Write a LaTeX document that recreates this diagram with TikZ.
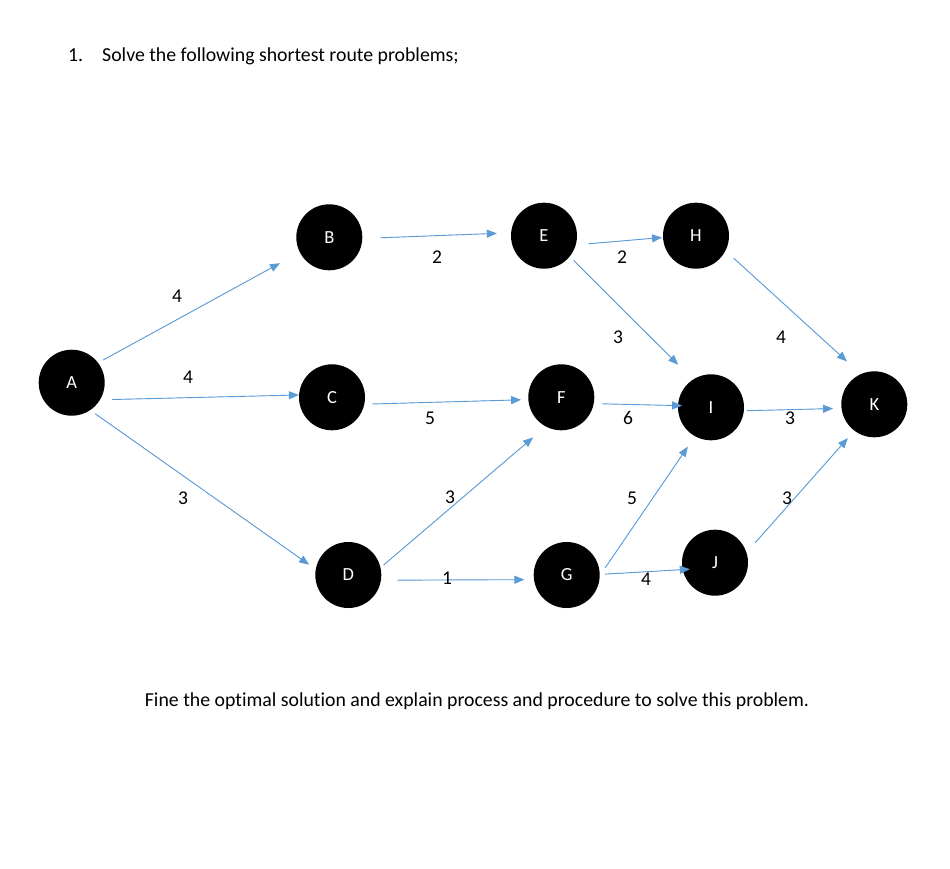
\documentclass[tikz,border=0pt]{standalone}
\usepackage{fontspec}
\setmainfont{Carlito}[Ligatures=NoCommon]
\usetikzlibrary{arrows.meta}
\definecolor{linkblue}{RGB}{91,155,213}
\begin{document}
\begin{tikzpicture}[
  vertex/.style={circle,fill=black,text=white,minimum size=66pt,inner sep=0pt,font=\fontsize{18.5}{18}\selectfont},
  wt/.style={font=\fontsize{19.5}{20}\selectfont},
  link/.style={-{Triangle[length=10pt,width=8pt]},draw=linkblue,fill=linkblue,line width=0.9pt},
  txt/.style={anchor=base west,inner sep=0pt,font=\fontsize{19.8}{20}\selectfont}]
\pgfsetxvec{\pgfpoint{1pt}{0}}
\pgfsetyvec{\pgfpoint{0}{-1pt}}
  \fill[white] (0,0) rectangle (950,868);
  \node[txt] (num) at (68,61) {1.};
  \node[txt] (task) at (102,61) {Solve the following shortest route problems;};
  \node[txt,anchor=base] (ask) at (477,706) {Fine the optimal solution and explain process and procedure to solve this problem.};
  \node[vertex] (A) at (71.7,382.7) {A};
  \node[vertex] (B) at (329.3,237.3) {B};
  \node[vertex] (C) at (332,397.3) {C};
  \node[vertex] (D) at (348.3,575) {D};
  \node[vertex] (E) at (544,235.7) {E};
  \node[vertex] (F) at (561.3,397.3) {F};
  \node[vertex] (G) at (566.7,575) {G};
  \node[vertex] (H) at (696,235.7) {H};
  \node[vertex] (I) at (711,407.3) {I};
  \node[vertex] (J) at (715,562.7) {J};
  \node[vertex] (K) at (874.3,404.3) {K};
  \draw[link,shorten <=5.7pt,shorten >=22.5pt] (A.37.9)--(B.207.4);
  \draw[link,shorten <=11.9pt] (A.-31.6)--(C.176.5);
  \draw[link,shorten <=6pt,shorten >=7.9pt] (A.-56.7)--(D.170.5);
  \draw[link,shorten <=18pt,shorten >=14.1pt] (B.-2.8)--(E.175.7);
  \draw[link,shorten <=7.8pt,shorten >=7.1pt] (C.-12.6)--(F.184.9);
  \draw[link,shorten <=3.8pt,shorten >=16.6pt] (D.13.2)--(F.242.3);
  \draw[link,shorten <=16.5pt,shorten >=9.4pt] (D.-9.6)--(G.188.7);
  \draw[link,shorten <=12.7pt,shorten >=0.8pt] (E.-16.5)--(H.183.4);
  \draw[link,shorten <=5.5pt,shorten >=20.8pt] (E.-39.7)--(I.123);
  \draw[link,shorten <=10.9pt,shorten >=18.7pt] (H.-27.5)--(K.114.7);
  \draw[link,shorten <=8.7pt,shorten >=-4.3pt] (F.-11.9)--(I.177.6);
  \draw[link,shorten <=2.9pt,shorten >=8.3pt] (I.-6)--(K.187.9);
  \draw[link,shorten <=9.4pt,shorten >=12.5pt] (G.-1.8)--(I.241.7);
  \draw[link,shorten <=5.3pt,shorten >=-7.3pt] (G.1.2)--(J.192.2);
  \draw[link,shorten <=13pt,shorten >=9.8pt] (J.18.2)--(K.233.9);
  \node[wt] (wAB) at (177,296) {4};
  \node[wt] (wAC) at (188,377) {4};
  \node[wt] (wAD) at (183,498) {3};
  \node[wt] (wBE) at (437,257) {2};
  \node[wt] (wCF) at (430,418) {5};
  \node[wt] (wDF) at (450,497) {3};
  \node[wt] (wDG) at (447,578) {1};
  \node[wt] (wEH) at (622,257) {2};
  \node[wt] (wEI) at (618,337) {3};
  \node[wt] (wHK) at (781,337) {4};
  \node[wt] (wFI) at (628,418) {6};
  \node[wt] (wIK) at (790,418) {3};
  \node[wt] (wGI) at (632,498) {5};
  \node[wt] (wGJ) at (646,579) {4};
  \node[wt] (wJK) at (787,498) {3};
 \end{tikzpicture}
\end{document}
